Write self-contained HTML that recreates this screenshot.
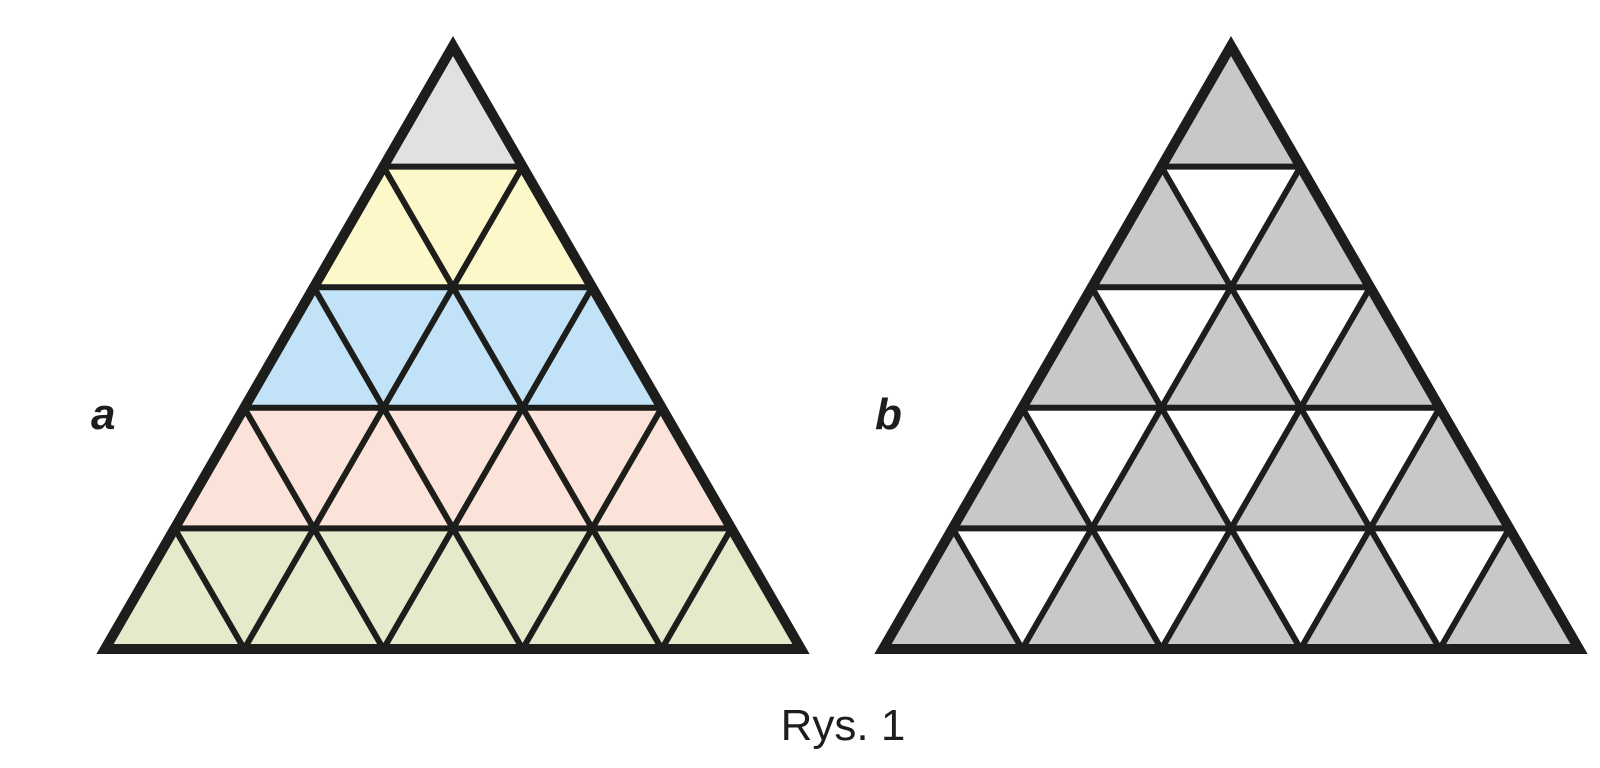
<!DOCTYPE html>
<html><head><meta charset="utf-8"><style>
html,body{margin:0;padding:0;background:#fff;width:1600px;height:768px;overflow:hidden}
svg{display:block}
</style></head><body>
<svg width="1600" height="768" viewBox="0 0 1600 768" xmlns="http://www.w3.org/2000/svg">
<defs>
<g id="lines" fill="none" stroke="#1d1d1b">
  <path vector-effect="non-scaling-stroke" stroke-width="6" d="M-1 1H1 M-2 2H2 M-3 3H3 M-4 4H4
   M-3 5L1 1 M-1 5L2 2 M1 5L3 3 M3 5L4 4
   M3 5L-1 1 M1 5L-2 2 M-1 5L-3 3 M-3 5L-4 4"/>
  <path vector-effect="non-scaling-stroke" stroke-width="10" stroke-linejoin="miter" stroke-miterlimit="10" d="M0 0L5 5H-5Z"/>
</g>
</defs>

<!-- Left triangle -->
<g transform="translate(453,46) scale(69.6,120.6)">
  <polygon points="0,0 1,1 -1,1" fill="#e1e1e1"/>
  <polygon points="-1,1 1,1 2,2 -2,2" fill="#fcf8ca"/>
  <polygon points="-2,2 2,2 3,3 -3,3" fill="#c2e3f7"/>
  <polygon points="-3,3 3,3 4,4 -4,4" fill="#fce3da"/>
  <polygon points="-4,4 4,4 5,5 -5,5" fill="#e4ebca"/>
  <use href="#lines"/>
</g>

<!-- Right triangle -->
<g transform="translate(1231,46) scale(69.6,120.6)">
  <polygon points="0,0 5,5 -5,5" fill="#fff"/>
  <g fill="#c8c8c8">
    <polygon points="0,0 -1,1 1,1"/>
    <polygon points="-1,1 -2,2 0,2"/><polygon points="1,1 0,2 2,2"/>
    <polygon points="-2,2 -3,3 -1,3"/><polygon points="0,2 -1,3 1,3"/><polygon points="2,2 1,3 3,3"/>
    <polygon points="-3,3 -4,4 -2,4"/><polygon points="-1,3 -2,4 0,4"/><polygon points="1,3 0,4 2,4"/><polygon points="3,3 2,4 4,4"/>
    <polygon points="-4,4 -5,5 -3,5"/><polygon points="-2,4 -3,5 -1,5"/><polygon points="0,4 -1,5 1,5"/><polygon points="2,4 1,5 3,5"/><polygon points="4,4 3,5 5,5"/>
  </g>
  <use href="#lines"/>
</g>

<text x="91" y="429" font-family="Liberation Sans, sans-serif" font-size="44" font-weight="bold" font-style="italic" fill="#1d1d1b">a</text>
<text x="875" y="429" font-family="Liberation Sans, sans-serif" font-size="44" font-weight="bold" font-style="italic" fill="#1d1d1b">b</text>
<text x="843" y="740" text-anchor="middle" font-family="Liberation Sans, sans-serif" font-size="44" fill="#1d1d1b">Rys. 1</text>
</svg>
</body></html>
